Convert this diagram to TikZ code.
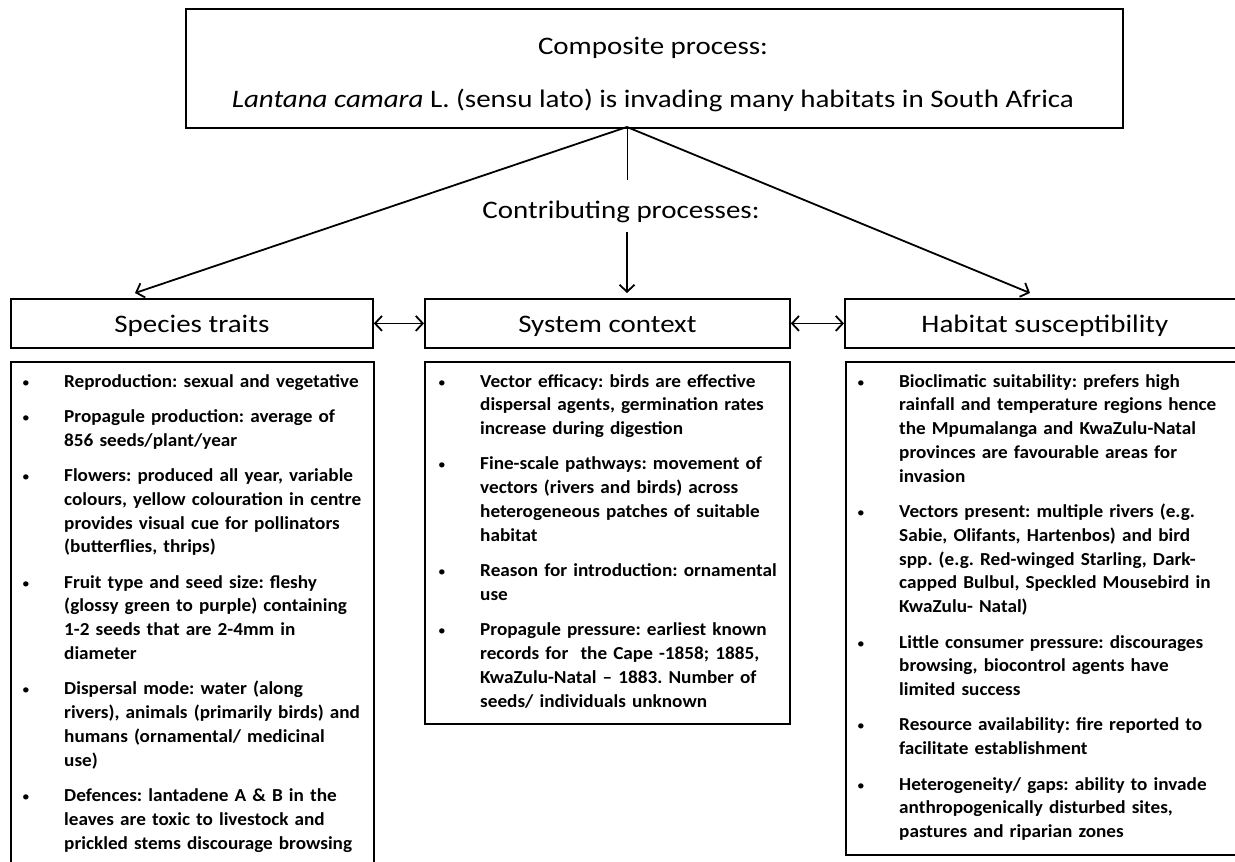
\documentclass[tikz,border=0pt]{standalone}
\usepackage{fontspec}
\setmainfont{Carlito}
\newfontfamily\headfont[FakeStretch=1.15]{Carlito}
\newfontfamily\bodyfont[FakeStretch=1.05]{Carlito}
\usetikzlibrary{arrows.meta}
\newcommand{\bul}[1]{\hangindent=40pt\hangafter=1\noindent\makebox[40pt][l]{\hspace{-2pt}\mdseries\scalebox{0.8}{\textbullet}}#1\par}
\tikzset{
  box/.style={draw, line width=1.8pt, inner sep=0pt, anchor=north west},
  head/.style={font=\headfont\fontsize{25.2}{30}\selectfont},
  bultext/.style={anchor=base west, inner sep=0pt, align=left,
    font=\bodyfont\bfseries\fontsize{18.3}{23.8}\selectfont},
  arr/.style={line width=1.8pt, -{Straight Barb[length=7pt,width=15pt,line width=1.8pt]}},
  darr/.style={line width=1.8pt, {Straight Barb[length=7pt,width=15pt,line width=1.8pt]}-{Straight Barb[length=7pt,width=15pt,line width=1.8pt]}},
}
\begin{document}
\begin{tikzpicture}[x=1pt,y=-1pt]
\useasboundingbox (0,0) rectangle (1235,862);
\fill[white] (0,0) rectangle (1235,862);

% top box
\node[box, minimum width=937pt, minimum height=119pt] (top) at (185,8) {};
\node[head, anchor=base] (t1) at (653,54) {Composite process:};
\node[head, anchor=base] (t2) at (653,107) {\textit{Lantana camara} L. (sensu lato) is invading many habitats in South Africa};

% heading boxes
\node[box, minimum width=362pt, minimum height=49pt] (species) at (10,298) {};
\node[box, minimum width=365pt, minimum height=49pt] (system) at (424,298) {};
\node[box, minimum width=400pt, minimum height=49pt] (habitat) at (844,298) {};
\node[head, anchor=base] at ([yshift=-9pt]species.center) {Species traits};
\node[head, anchor=base] at ([yshift=-9pt]system.center) {System context};
\node[head, anchor=base] at ([yshift=-9pt]habitat.center) {Habitat susceptibility};

% content boxes
\node[box, minimum width=363pt, minimum height=506pt] (specC) at (10,361) {};
\node[box, minimum width=365pt, minimum height=362pt] (sysC) at (424,361) {};
\node[box, minimum width=400pt, minimum height=493pt] (habC) at (845,361) {};

\node[bultext, text width=360pt] (specT) at (24,387) {%
\setlength{\parskip}{11.5pt}\frenchspacing
\bul{Reproduction: sexual and vegetative}
\bul{Propagule production: average of\newline 856 seeds/plant/year}
\bul{Flowers: produced all year, variable\newline colours, yellow colouration in centre\newline provides visual cue for pollinators\newline (butterflies, thrips)}
\bul{Fruit type and seed size: fleshy\newline (glossy green to purple) containing\newline 1-2 seeds that are 2-4mm in\newline diameter}
\bul{Dispersal mode: water (along\newline rivers), animals (primarily birds) and\newline humans (ornamental/ medicinal\newline use)}
\bul{Defences: lantadene A \& B in the\newline leaves are toxic to livestock and\newline prickled stems discourage browsing}};

\node[bultext, text width=360pt] (sysT) at (440,387) {%
\setlength{\parskip}{11.5pt}\frenchspacing
\bul{Vector efficacy: birds are effective\newline dispersal agents, germination rates\newline increase during digestion}
\bul{Fine-scale pathways: movement of\newline vectors (rivers and birds) across\newline heterogeneous patches of suitable\newline habitat}
\bul{Reason for introduction: ornamental\newline use}
\bul{Propagule pressure: earliest known\newline records for\ \ the Cape -1858; 1885,\newline KwaZulu-Natal – 1883. Number of\newline seeds/ individuals unknown}};

\node[bultext, text width=380pt] (habT) at (859,387) {%
\setlength{\parskip}{11.5pt}\frenchspacing
\bul{Bioclimatic suitability: prefers high\newline rainfall and temperature regions hence\newline the Mpumalanga and KwaZulu-Natal\newline provinces are favourable areas for\newline invasion}
\bul{Vectors present: multiple rivers (e.g.\newline Sabie, Olifants, Hartenbos) and bird\newline spp. (e.g. Red-winged Starling, Dark-\newline capped Bulbul, Speckled Mousebird in\newline KwaZulu- Natal)}
\bul{Little consumer pressure: discourages\newline browsing, biocontrol agents have\newline limited success}
\bul{Resource availability: fire reported to\newline facilitate establishment}
\bul{Heterogeneity/ gaps: ability to invade\newline anthropogenically disturbed sites,\newline pastures and riparian zones}};

% connectors
\coordinate (root) at (627,127);
\coordinate (stemEnd) at (627,180);
\coordinate (sTip) at (135,293);
\coordinate (hTip) at (1030,293);
\coordinate (cTop) at (627,232);
\coordinate (cTip) at (627,293);
\node[head, anchor=base] (contrib) at (621,218) {Contributing processes:};
\draw[line width=1pt] (root) -- (stemEnd);
\draw[arr] (root) -- (sTip);
\draw[arr] (root) -- (hTip);
\draw[arr] (cTop) -- (cTip);
\draw[darr] (species.east) -- (system.west);
\draw[darr] (system.east) -- (habitat.west);
\end{tikzpicture}
\end{document}
